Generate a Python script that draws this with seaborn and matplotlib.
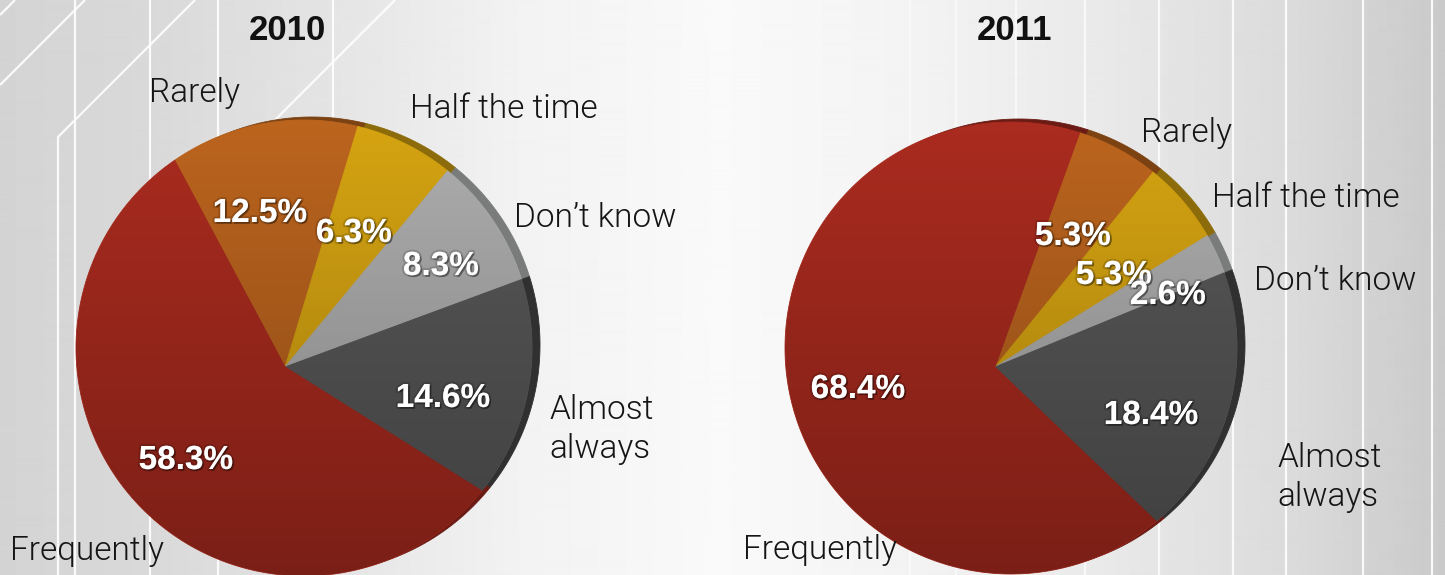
import numpy as np
import matplotlib
matplotlib.use("Agg")
import matplotlib.pyplot as plt
import matplotlib.patheffects as pe
from matplotlib.patches import Polygon, Circle
import seaborn as sns

# ---- data -------------------------------------------------------------
years = ["2010", "2011"]
categories = ["Rarely", "Half the time", "Don\u2019t know", "Almost always", "Frequently"]
share_2010 = [12.5, 6.3, 8.3, 14.6, 58.3]
share_2011 = [5.3, 5.3, 2.6, 18.4, 68.4]

# ---- style ------------------------------------------------------------
sns.set_theme(style="white")
plt.rcParams["font.family"] = ["Liberation Sans", "DejaVu Sans"]

slice_colors = sns.color_palette(["#bb641e", "#d6a412", "#aeaeae", "#585858", "#aa2b1f"])
rim_colors = sns.color_palette(["#7c4212", "#8c6c0a", "#7a7c7c", "#303030", "#6a1b14"])

W, H = 1445, 575
fig = plt.figure(figsize=(W / 100, H / 100), dpi=100)

# ---- backdrop: soft horizontal gradient with thin white rules ----------
bg = fig.add_axes([0, 0, 1, 1])
stops_x = [0, 150, 330, 520, 720, 900, 1100, 1300, 1445]
stops_v = [0.83, 0.85, 0.895, 0.95, 0.978, 0.955, 0.915, 0.855, 0.79]
shade_row = np.interp(np.arange(W), stops_x, stops_v)
bg.imshow(np.tile(shade_row, (2, 1)), cmap="gray", vmin=0, vmax=1,
          extent=(0, W, H, 0), aspect="auto", interpolation="bilinear")
rules = [[(0, 15), (15, 0)], [(0, 85), (85, 0)],
         [(58, H), (58, 137), (195, 0)], [(230, 165), (395, 0)],
         [(75, 0), (75, H)], [(150, 0), (150, H)], [(218, 0), (218, H)],
         [(333, 0), (333, 140)]]
for seg in rules:
    xs, ys = zip(*seg)
    bg.plot(xs, ys, color="white", lw=1.6, alpha=0.9, solid_capstyle="butt")
for x, a in zip([910, 956, 1016, 1085, 1159, 1233, 1286, 1363, 1432],
                [0.5, 0.5, 0.6, 0.7, 0.8, 0.85, 0.9, 0.9, 0.9]):
    bg.plot([x, x], [0, H], color="white", lw=1.6, alpha=a)
bg.set_xlim(0, W)
bg.set_ylim(H, 0)
bg.axis("off")


def tilt(xy, lean):
    """Projective map of the unit disc onto itself that moves the hub to `lean`."""
    lean = np.asarray(lean, float)
    beta = np.hypot(*lean)
    n = lean / beta
    par = xy @ n
    perp = xy - np.outer(par, n)
    den = 1 + beta * par
    return np.outer((par + beta) / den, n) + perp * (np.sqrt(1 - beta ** 2) / den)[:, None]


def draw_pie(values, cx, cy, r, start, lean):
    half = 1.3
    ax = fig.add_axes([(cx - half * r) / W, (H - cy - half * r) / H,
                       2 * half * r / W, 2 * half * r / H])
    wedges, _ = ax.pie(values, colors=slice_colors, startangle=start,
                       counterclock=False, radius=1, wedgeprops=dict(linewidth=0))
    rim_shift = np.array([8.0, 3.0]) / r
    for w, face, rim in zip(wedges, slice_colors, rim_colors):
        t = np.radians(np.linspace(w.theta1, w.theta2, 240))
        outline = np.vstack([[0.0, 0.0], np.column_stack([np.cos(t), np.sin(t)])])
        outline = tilt(outline, lean)
        ax.add_patch(Polygon(outline + rim_shift, closed=True, facecolor=rim,
                             edgecolor=rim, lw=0.6, zorder=1))
        ax.add_patch(Polygon(outline, closed=True, facecolor=face,
                             edgecolor=face, lw=0.6, zorder=2))
        w.remove()
    # darken the face toward its lower edge
    grad = np.zeros((256, 1, 4))
    grad[:, 0, 3] = np.linspace(0.0, 0.28, 256)
    im = ax.imshow(grad, extent=(-1, 1, -1, 1), origin="upper", aspect="auto",
                   interpolation="bilinear", zorder=3)
    im.set_clip_path(Circle((0, 0), 1, transform=ax.transData))
    ax.set_xlim(-half, half)
    ax.set_ylim(-half, half)
    ax.axis("off")
    return ax


draw_pie(share_2010, cx=304, cy=348, r=228, start=118, lean=(-0.083, -0.083))
draw_pie(share_2011, cx=1011, cy=348, r=226, start=70, lean=(-0.071, -0.084))

# ---- text layer ---------------------------------------------------------
tx = fig.add_axes([0, 0, 1, 1])
tx.set_xlim(0, W)
tx.set_ylim(H, 0)
tx.axis("off")
tx.patch.set_visible(False)

title_pos = [(287, 40), (1015, 40)]
# baseline of the last line of each category name
name_pos = [
    [(149, 102), (410, 118), (514, 227), (549, 458), (10, 560)],
    [(1141, 142), (1212, 207), (1254, 290), (1277, 506), (743, 559)],
]
pct_pos = [
    [(260, 222), (354, 242), (441, 275), (443, 407), (186, 469)],
    [(1073, 245), (1114, 284), (1168, 304), (1151, 424), (858, 398)],
]

pct_effects = [pe.Stroke(linewidth=3, foreground=(0, 0, 0, 0.15)),
               pe.SimplePatchShadow(offset=(1.2, -1.2), shadow_rgbFace="black", alpha=0.35),
               pe.Normal()]

for year, shares, tpos, npos, ppos in zip(years, [share_2010, share_2011],
                                          title_pos, name_pos, pct_pos):
    tx.text(*tpos, year, ha="center", va="baseline", fontsize=25,
            fontweight="bold", color="#111111")
    for cat, (x, y) in zip(categories, npos):
        label = cat.replace("Almost ", "Almost\n")
        tx.text(x, y, label, ha="left", va="baseline", fontsize=24,
                color="#151515", linespacing=1.28,
                family=["Roboto", "Liberation Sans"], fontweight=300)
    for v, (x, y) in zip(shares, ppos):
        tx.text(x, y, f"{v:.1f}%", ha="center", va="baseline", fontsize=24,
                fontweight="bold", color="white", path_effects=pct_effects)

fig.savefig("out.png", dpi=100)
